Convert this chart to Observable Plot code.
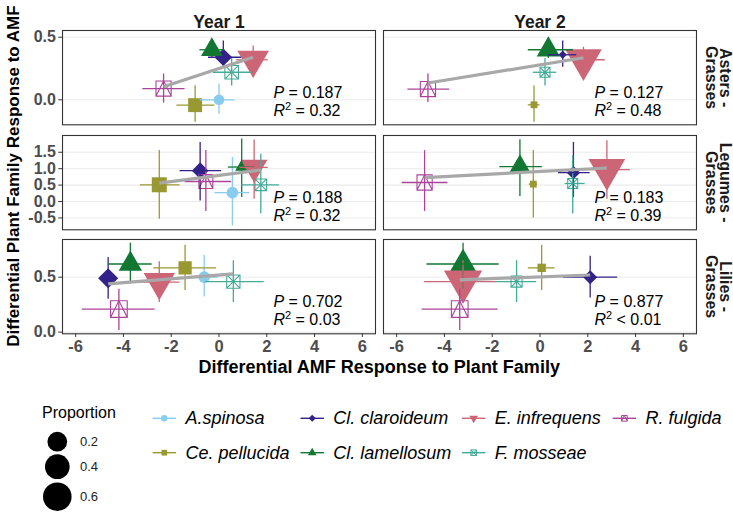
<!DOCTYPE html>
<html><head><meta charset="utf-8">
<script src="https://cdn.jsdelivr.net/npm/d3@7"></script>
<script src="https://cdn.jsdelivr.net/npm/@observablehq/plot@0.6"></script>
<style>
body{margin:0;background:#fff;}
#wrap{position:relative;width:733px;height:513px;overflow:hidden;background:#fff;font-family:"Liberation Sans",Arial,sans-serif;}
</style></head><body><div id="wrap"></div>
<script>
// ---------- data ----------
const species = ["A.spinosa","Ce. pellucida","Cl. claroideum","Cl. lamellosum","E. infrequens","F. mosseae","R. fulgida"];
const speciesColors = ["#88CCEE","#999933","#332288","#117733","#CC6677","#44AA99","#AA4499"];
const openSpecies = ["F. mosseae","R. fulgida"];
const years = ["Year 1","Year 2"];
const families = ["Asters -\nGrasses","Legumes -\nGrasses","Lilies -\nGrasses"];
const xTicks = [-6,-4,-2,0,2,4,6];
const yTicks = [[0,0.5],[-0.5,0,0.5,1,1.5],[0,0.5]];
const yDomains = [[-0.2,0.554],[-0.86,2.01],[-0.015,0.843]];
const xDomain = [-6.55,6.55];
const propBreaks = [0.2,0.4,0.6];

// long-format points: family index, year index, species
const ptFamily = [0,0,0,0,0,0,0, 0,0,0,0,0,0, 1,1,1,1,1,1,1, 1,1,1,1,1,1, 2,2,2,2,2,2,2, 2,2,2,2,2,2];
const ptYear   = [0,0,0,0,0,0,0, 1,1,1,1,1,1, 0,0,0,0,0,0,0, 1,1,1,1,1,1, 0,0,0,0,0,0,0, 1,1,1,1,1,1];
const ptSpecies = [
 "A.spinosa","Ce. pellucida","Cl. claroideum","Cl. lamellosum","E. infrequens","F. mosseae","R. fulgida",
 "Ce. pellucida","Cl. claroideum","Cl. lamellosum","E. infrequens","F. mosseae","R. fulgida",
 "A.spinosa","Ce. pellucida","Cl. claroideum","Cl. lamellosum","E. infrequens","F. mosseae","R. fulgida",
 "Ce. pellucida","Cl. claroideum","Cl. lamellosum","E. infrequens","F. mosseae","R. fulgida",
 "A.spinosa","Ce. pellucida","Cl. claroideum","Cl. lamellosum","E. infrequens","F. mosseae","R. fulgida",
 "Ce. pellucida","Cl. claroideum","Cl. lamellosum","E. infrequens","F. mosseae","R. fulgida"];
const ptX   = [0.00,-1.00,0.18,-0.30,1.43,0.53,-2.32,  -0.25,0.95,0.35,1.82,0.21,-4.69,
               0.56,-2.50,-0.79,0.95,1.47,1.75,-0.55,  -0.28,1.40,-0.84,2.80,1.37,-4.83,
               -0.62,-1.42,-4.64,-3.71,-2.50,0.60,-4.19, 0.07,2.10,-3.22,-3.22,-0.98,-3.36];
const ptXlo = [-0.79,-1.76,-0.44,-0.80,0.74,-0.23,-3.19, -0.49,0.35,-0.49,1.05,-0.28,-5.53,
               -0.17,-3.29,-1.63,0.39,0.87,0.95,-1.42,   -0.45,0.77,-1.68,1.82,1.05,-5.77,
               -1.28,-2.73,-4.96,-4.61,-3.36,-0.58,-5.72, -0.49,0.98,-4.73,-4.83,-1.82,-4.93];
const ptXhi = [0.67,-0.17,0.95,0.25,2.06,1.36,-1.42,  0.00,1.54,1.40,2.73,0.70,-3.78,
               1.29,-1.63,0.11,1.50,2.06,2.54,0.53,   -0.10,2.10,0.10,3.78,1.89,-3.85,
               -0.03,-0.10,-4.26,-2.80,-1.63,1.89,-2.67, 0.63,3.25,-1.71,-1.82,-0.14,-1.75];
const ptY   = [0.00,-0.043,0.34,0.40,0.32,0.22,0.09,  -0.04,0.36,0.40,0.32,0.22,0.086,
               0.27,0.51,0.94,1.05,1.04,0.51,0.61,    0.53,0.88,1.06,0.97,0.55,0.58,
               0.50,0.585,0.49,0.62,0.455,0.46,0.21,  0.585,0.50,0.62,0.46,0.46,0.21];
const ptYlo = [-0.115,-0.18,0.25,0.33,0.18,0.11,-0.027, -0.18,0.26,0.33,0.20,0.11,-0.022,
               -0.74,-0.54,0.02,0.12,0.07,-0.38,-0.30,   -0.50,0.12,0.15,0.07,-0.38,-0.30,
               0.32,0.38,0.30,0.44,0.27,0.27,0.015,      0.38,0.31,0.39,0.26,0.27,0.015];
const ptYhi = [0.126,0.112,0.47,0.47,0.43,0.33,0.206,  0.11,0.47,0.48,0.42,0.33,0.206,
               1.34,1.55,1.80,1.90,1.87,1.44,1.55,     1.55,1.80,1.88,1.85,1.39,1.55,
               0.70,0.79,0.68,0.81,0.64,0.65,0.39,     0.79,0.69,0.81,0.65,0.65,0.39];
const ptProp = [0.03,0.13,0.136,0.14,0.42,0.12,0.17,  0.004,0.003,0.176,0.62,0.038,0.17,
                0.044,0.164,0.11,0.02,0.26,0.07,0.13,  0.004,0.05,0.14,0.62,0.038,0.17,
                0.044,0.11,0.20,0.176,0.41,0.11,0.225, 0.016,0.06,0.26,0.69,0.057,0.225];

// fitted regression lines (endpoints)
const fitFamily = [0,0,1,1,2,2];
const fitYear   = [0,1,0,1,0,1];
const fitX1 = [-2.32,-4.69,-2.50,-4.83,-4.64,-3.36];
const fitY1 = [0.105,0.134,0.56,0.73,0.44,0.476];
const fitX2 = [1.43,1.82,1.75,2.80,0.60,2.10];
const fitY2 = [0.34,0.336,0.96,1.02,0.53,0.52];

// statistics per panel
const statP  = ["0.187","0.127","0.188","0.183","0.702","0.877"];
const statR2 = ["= 0.32","= 0.48","= 0.32","= 0.39","= 0.03","< 0.01"];

// ---------- symbols ----------
const sqrt3 = Math.sqrt(3);
const symTriDown = {draw(ctx, size){ const y = -Math.sqrt(size/(sqrt3*3)); ctx.moveTo(0,-y*2); ctx.lineTo(-sqrt3*y, y); ctx.lineTo(sqrt3*y, y); ctx.closePath(); }};
const symSquareTimes = {draw(ctx, size){ const h = Math.sqrt(size)/2; ctx.moveTo(-h,-h); ctx.lineTo(h,-h); ctx.lineTo(h,h); ctx.lineTo(-h,h); ctx.closePath(); ctx.moveTo(-h,-h); ctx.lineTo(h,h); ctx.moveTo(h,-h); ctx.lineTo(-h,h); }};
const symSquareTri = {draw(ctx, size){ const h = Math.sqrt(size)/2; ctx.moveTo(-h,-h); ctx.lineTo(h,-h); ctx.lineTo(h,h); ctx.lineTo(-h,h); ctx.closePath(); ctx.moveTo(-h,h); ctx.lineTo(0,-h); ctx.lineTo(h,h); }};
const speciesSymbols = [d3.symbolCircle, d3.symbolSquare, d3.symbolDiamond2, d3.symbolTriangle, symTriDown, symSquareTimes, symSquareTri];

// ---------- tables ----------
const points = ptSpecies.map((sp, i) => ({fam: ptFamily[i], yr: years[ptYear[i]], sp, x: ptX[i], xlo: ptXlo[i], xhi: ptXhi[i], y: ptY[i], ylo: ptYlo[i], yhi: ptYhi[i], prop: ptProp[i]}));
const fitLines = fitX1.map((_, i) => ({fam: fitFamily[i], yr: years[fitYear[i]], x1: fitX1[i], y1: fitY1[i], x2: fitX2[i], y2: fitY2[i]}));
const statRows = statP.map((p, i) => ({fam: Math.floor(i/2), yr: years[i%2], p, r2: statR2[i]}));

const FONT = "'Liberation Sans', Arial, sans-serif";
const rScale = {type: "sqrt", domain: [0, 0.6], range: [3, 13.46]};

function rowPlot(fi) {
  const mt = fi === 0 ? 30 : 5;
  const mb = fi === 2 ? 46 : 5.3;
  const pts = points.filter(d => d.fam === fi);
  const fits = fitLines.filter(d => d.fam === fi);
  const stats = statRows.filter(d => d.fam === fi);
  const dots = species.map((s, i) => {
    const open = openSpecies.includes(s);
    return Plot.dot(pts.filter(d => d.sp === s), {fx: "yr", x: "x", y: "y", r: "prop", symbol: speciesSymbols[i],
      fill: open ? "none" : speciesColors[i], stroke: open ? speciesColors[i] : "none", strokeWidth: 1.1});
  });
  const marks = [
    Plot.gridY(yTicks[fi], {stroke: "#EBEBEB", strokeOpacity: 1, strokeWidth: 1.1}),
    ...dots,
    Plot.ruleX(pts, {fx: "yr", x: "x", y1: "ylo", y2: "yhi", stroke: "sp", strokeWidth: 1.3}),
    Plot.ruleY(pts, {fx: "yr", y: "y", x1: "xlo", x2: "xhi", stroke: "sp", strokeWidth: 1.3}),
    Plot.link(fits, {fx: "yr", x1: "x1", y1: "y1", x2: "x2", y2: "y2", stroke: "#A8A8A8", strokeWidth: 3.2}),
    Plot.text(stats, {fx: "yr", text: d => "P = " + d.p, frameAnchor: "bottom-left", dx: 211, dy: -32, textAnchor: "start", lineAnchor: "middle", fontSize: 16, fill: "#000"}),
    Plot.text(stats, {fx: "yr", text: d => "R2 " + d.r2, frameAnchor: "bottom-left", dx: 211, dy: -14, textAnchor: "start", lineAnchor: "middle", fontSize: 16, fill: "#000"}),
    Plot.text([families[fi]], {fx: () => years[1], text: d => d, frameAnchor: "right", dx: 21, rotate: 90, textAnchor: "middle", lineAnchor: "middle", lineHeight: 0.9, fontSize: 16, fontWeight: "bold", fill: "#1A1A1A"}),
    Plot.frame({stroke: "#333333", strokeWidth: 1.1}),
    Plot.axisY(yTicks[fi], {tickFormat: d => d.toFixed(1), tickSize: 3.7, tickPadding: 2.9, fontSize: 16, fontWeight: "bold", fill: "#4D4D4D", stroke: "#333333", label: null})
  ];
  if (fi === 0) marks.push(Plot.text(years, {fx: d => d, text: d => d, frameAnchor: "top", dy: -15, fontSize: 17.5, fontWeight: "bold", fill: "#1A1A1A"}));
  if (fi === 2) marks.push(Plot.axisX(xTicks, {tickFormat: d => String(d), tickSize: 3.7, tickPadding: 2.9, fontSize: 16.5, fontWeight: "bold", fill: "#4D4D4D", stroke: "#333333", label: null}));
  return Plot.plot({
    width: 733, height: mt + 94.3 + mb,
    marginLeft: 61.7, marginRight: 36.3, marginTop: mt, marginBottom: mb,
    style: {fontFamily: FONT, background: "white", overflow: "visible"},
    fx: {domain: years, paddingInner: 0.0258, paddingOuter: 0, axis: null, label: null},
    x: {domain: xDomain, axis: fi === 2 ? undefined : null, label: null},
    y: {domain: yDomains[fi], label: null},
    r: rScale,
    color: {domain: species, range: speciesColors},
    marks
  });
}

const wrap = document.getElementById("wrap");
let offY = 0;
[0,1,2].forEach(fi => {
  const svg = rowPlot(fi);
  svg.style.position = "absolute"; svg.style.left = "0px"; svg.style.top = offY + "px";
  wrap.appendChild(svg);
  offY += +svg.getAttribute("height");
});

// italic / superscript for statistics labels
d3.select(wrap).selectAll("text").each(function() {
  const t = this.textContent;
  if (t.startsWith("P = ")) {
    this.innerHTML = '<tspan font-style="italic">P</tspan>' + t.slice(1);
  } else if (t.startsWith("R2 ")) {
    this.innerHTML = '<tspan font-style="italic">R</tspan><tspan dy="-6" font-size="11">2</tspan><tspan dy="6">' + t.slice(2) + '</tspan>';
  }
});

// ---------- titles and legend ----------
const over = d3.select(wrap).append("svg").attr("width", 733).attr("height", 513)
  .style("position", "absolute").style("left", "0px").style("top", "0px").style("pointer-events", "none")
  .style("font-family", FONT);

over.append("text").attr("transform", "translate(13,176) rotate(-90)").attr("text-anchor", "middle")
  .attr("dominant-baseline", "central").attr("font-size", 17).attr("font-weight", "bold").attr("fill", "#000")
  .text("Differential Plant Family Response to AMF");
over.append("text").attr("x", 379.2).attr("y", 367).attr("text-anchor", "middle")
  .attr("dominant-baseline", "central").attr("font-size", 18).attr("font-weight", "bold").attr("fill", "#000")
  .text("Differential AMF Response to Plant Family");

// size legend
const rs = Plot.scale({r: rScale});
over.append("text").attr("x", 42).attr("y", 412).attr("dominant-baseline", "central").attr("font-size", 16).attr("fill", "#000").text("Proportion");
const propY = [441.7, 466.7, 496.7];
propBreaks.forEach((v, i) => {
  over.append("circle").attr("cx", 57.3).attr("cy", propY[i]).attr("r", rs.apply(v) + 0.8).attr("fill", "#000");
  over.append("text").attr("x", 80).attr("y", propY[i]).attr("dominant-baseline", "central").attr("font-size", 13).attr("fill", "#222").text(v.toFixed(1));
});

// species legend
const colX = [152.6, 300.5, 462, 612.7];
const rowY = [418.3, 452.7];
species.forEach((s, i) => {
  const cx = colX[Math.floor(i/2)], cy = rowY[i%2];
  const g = over.append("g");
  g.append("line").attr("x1", cx).attr("x2", cx + 23.4).attr("y1", cy).attr("y2", cy).attr("stroke", speciesColors[i]).attr("stroke-width", 1.4);
  const open = openSpecies.includes(s);
  g.append("path").attr("transform", `translate(${cx + 11.7},${cy})`)
    .attr("d", d3.symbol(speciesSymbols[i], Math.PI * 3.2 * 3.2)())
    .attr("fill", open ? "none" : speciesColors[i]).attr("stroke", open ? speciesColors[i] : "none").attr("stroke-width", 1);
  g.append("text").attr("x", cx + 32.8).attr("y", cy).attr("dominant-baseline", "central")
    .attr("font-size", 18).attr("font-style", "italic").attr("fill", "#000").text(s);
});
</script>
</body></html>
